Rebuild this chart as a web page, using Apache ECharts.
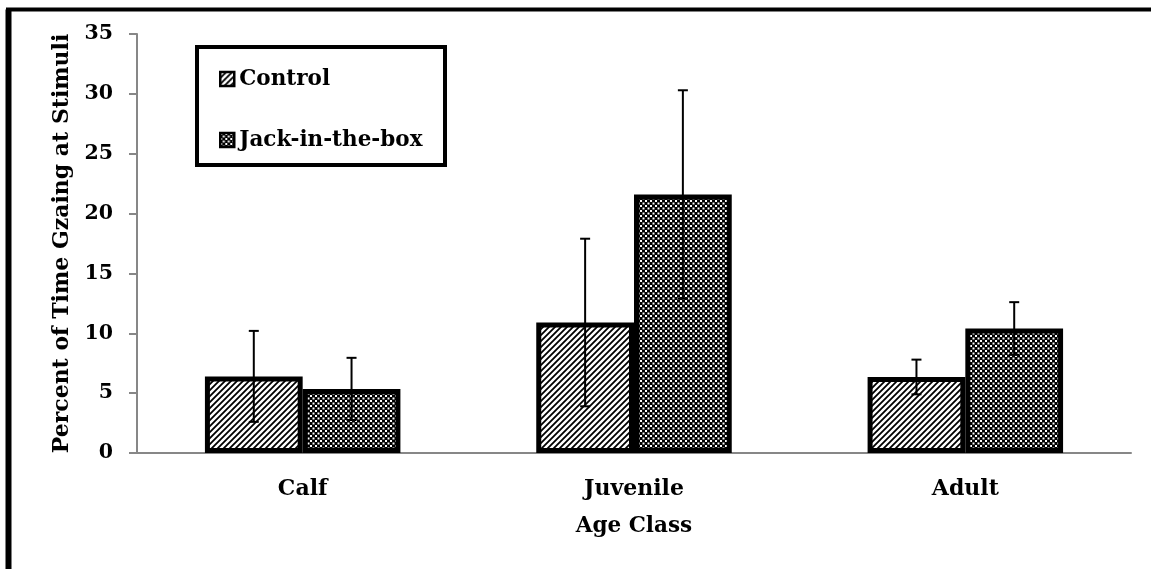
<!DOCTYPE html>
<html><head><meta charset="utf-8">
<script src="https://cdn.jsdelivr.net/npm/echarts@6/dist/echarts.min.js"></script>
<style>html,body{margin:0;padding:0;background:#fff}#c{width:1151px;height:569px}</style>
</head><body><div id="c"></div>
<script>
const categories = ['Calf', 'Juvenile', 'Adult'];
const seriesNames = ['Control', 'Jack-in-the-box'];
const controlMean = [6.4, 10.9, 6.35];
const controlErr = [3.8, 7.0, 1.45];
const jackMean = [5.35, 21.6, 10.4];
const jackErr = [2.6, 8.7, 2.2];
const yTicks = [0, 5, 10, 15, 20, 25, 30, 35];

const SERIF = '"DejaVu Serif", serif';

function hatchPattern() {
  const c = document.createElement('canvas');
  c.width = 6; c.height = 6;
  const g = c.getContext('2d');
  g.fillStyle = '#fff'; g.fillRect(0, 0, 6, 6);
  g.strokeStyle = '#000'; g.lineWidth = 1.8;
  g.beginPath();
  g.moveTo(-1, 7); g.lineTo(7, -1);
  g.moveTo(-4, 4); g.lineTo(4, -4);
  g.moveTo(2, 10); g.lineTo(10, 2);
  g.stroke();
  return c;
}
function checkPattern() {
  const c = document.createElement('canvas');
  c.width = 5; c.height = 5;
  const g = c.getContext('2d');
  g.fillStyle = '#000'; g.fillRect(0, 0, 5, 5);
  g.fillStyle = '#fff';
  g.fillRect(0, 0, 2, 2); g.fillRect(2.5, 2.5, 2, 2);
  return c;
}
const hatch = { image: hatchPattern(), repeat: 'repeat' };
const check = { image: checkPattern(), repeat: 'repeat' };

const BAR_FRAC = 0.295;
function errData(means, errs) {
  return means.map((m, i) => [i, m, errs[i]]);
}
function errRender(side) {
  return function (params, api) {
    const idx = api.value(0), m = api.value(1), e = api.value(2);
    const band = api.size([1, 0])[0];
    const cx = api.coord([idx, 0])[0] + side * band * BAR_FRAC / 2;
    const top = api.coord([idx, m + e])[1];
    const bot = api.coord([idx, m - e])[1];
    const hw = 5;
    const style = { stroke: '#000', lineWidth: 2 };
    return {
      type: 'group',
      children: [
        { type: 'line', shape: { x1: cx, y1: top, x2: cx, y2: bot }, style },
        { type: 'line', shape: { x1: cx - hw, y1: top, x2: cx + hw, y2: top }, style },
        { type: 'line', shape: { x1: cx - hw, y1: bot, x2: cx + hw, y2: bot }, style }
      ]
    };
  };
}

const chart = echarts.init(document.getElementById('c'), null, { renderer: 'canvas' });
chart.setOption({
  animation: false,
  backgroundColor: '#fff',
  grid: { left: 137, right: 20, top: 34, bottom: 116 },
  legend: {
    data: seriesNames,
    orient: 'vertical',
    left: 214, top: 63,
    itemWidth: 14, itemHeight: 14,
    itemGap: 39,
    icon: 'rect',
    itemStyle: { borderColor: '#000', borderWidth: 2.5 },
    textStyle: { fontFamily: SERIF, fontWeight: 'bold', fontSize: 21.5, color: '#000', padding: [0, 0, 0, 0] }
  },
  graphic: [
    { type: 'rect', shape: { x: 197, y: 47, width: 248, height: 118 }, style: { fill: 'none', stroke: '#000', lineWidth: 4 }, z: 10 },
    { type: 'line', shape: { x1: 8.5, y1: 9.5, x2: 8.5, y2: 569 }, style: { stroke: '#000', lineWidth: 6 }, z: 10 },
    { type: 'line', shape: { x1: 6, y1: 9.5, x2: 1151, y2: 9.5 }, style: { stroke: '#000', lineWidth: 4 }, z: 10 }
  ],
  xAxis: {
    type: 'category',
    data: categories,
    name: 'Age Class',
    nameLocation: 'middle',
    nameGap: 62,
    nameTextStyle: { fontFamily: SERIF, fontWeight: 'bold', fontSize: 21.5, color: '#000' },
    axisLine: { lineStyle: { color: '#878787', width: 2 } },
    axisTick: { length: 7, lineStyle: { color: '#878787', width: 2 } },
    axisLabel: { fontFamily: SERIF, fontWeight: 'bold', fontSize: 22, color: '#000', margin: 25 }
  },
  yAxis: {
    type: 'value',
    min: 0, max: 35, interval: 5,
    name: 'Percent of Time Gzaing at Stimuli',
    nameLocation: 'middle',
    nameGap: 63,
    nameTextStyle: { fontFamily: SERIF, fontWeight: 'bold', fontSize: 22, color: '#000' },
    axisLine: { show: true, lineStyle: { color: '#878787', width: 2 } },
    axisTick: { show: true, length: 8, lineStyle: { color: '#878787', width: 2 } },
    splitLine: { show: false },
    axisLabel: { fontFamily: SERIF, fontWeight: 'bold', fontSize: 20.5, color: '#000', margin: 24,
      formatter: v => yTicks.includes(v) ? String(v) : '' }
  },
  series: [
    { name: seriesNames[0], type: 'bar', data: controlMean, barWidth: (BAR_FRAC * 100) + '%', barGap: '0%',
      itemStyle: { color: hatch, borderColor: '#000', borderWidth: 5 } },
    { name: seriesNames[1], type: 'bar', data: jackMean, barWidth: (BAR_FRAC * 100) + '%', barGap: '0%',
      itemStyle: { color: check, borderColor: '#000', borderWidth: 5 } },
    { type: 'custom', data: errData(controlMean, controlErr), renderItem: errRender(-1), z: 5, silent: true },
    { type: 'custom', data: errData(jackMean, jackErr), renderItem: errRender(1), z: 5, silent: true }
  ]
});
</script></body></html>
